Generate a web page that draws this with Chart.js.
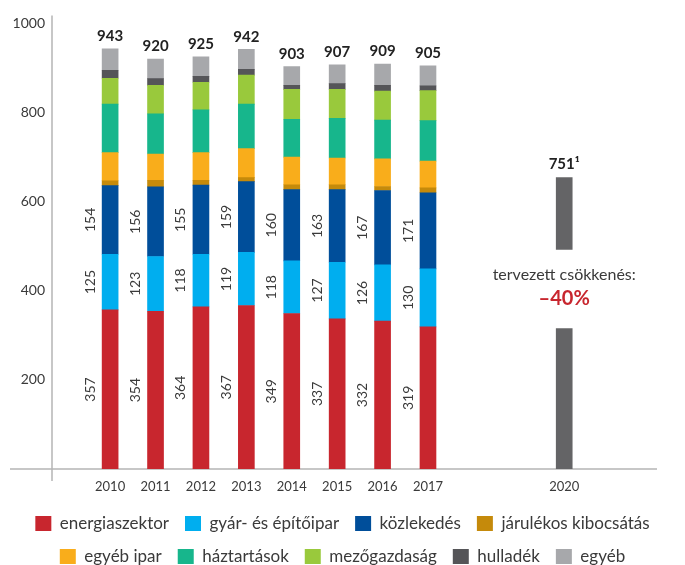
<!DOCTYPE html>
<html>
<head>
<meta charset="utf-8">
<script src="https://cdn.jsdelivr.net/npm/chart.js@4"></script>
<style>
  html, body { margin: 0; padding: 0; background: #fff; overflow: hidden; }
  #wrap { width: 685px; height: 575px; }
</style>
</head>
<body>
<div id="wrap"><canvas id="c"></canvas></div>
<script>
const years = [2010, 2011, 2012, 2013, 2014, 2015, 2016, 2017];
const tickYears = [2010, 2011, 2012, 2013, 2014, 2015, 2016, 2017, 2020];
const yTicks = [200, 400, 600, 800, 1000];

const energia = [357, 354, 364, 367, 349, 337, 332, 319];
const gyar = [125, 123, 118, 119, 118, 127, 126, 130];
const kozlekedes = [154, 156, 155, 159, 160, 163, 167, 171];
const jarulekos = [11, 15, 11, 9, 11, 11, 9, 11];
const egyebIpar = [63, 59, 62, 65, 62, 60, 62, 60];
const haztartasok = [109, 90, 96, 100, 85, 89, 87, 91];
const mezogazdasag = [58, 64, 62, 65, 67, 65, 65, 67];
const hulladek = [18, 15, 13, 13, 9, 13, 13, 11];
const egyeb = [48, 44, 44, 45, 42, 42, 48, 45];
const totals = [943, 920, 925, 942, 903, 907, 909, 905];

const targetYear = 2020;
const targetLabel = '751¹';
const targetSegments = [[0, 315], [493, 654]];

const series = [
  { label: 'energiaszektor', data: energia, color: '#c8262e' },
  { label: 'gyár- és építőipar', data: gyar, color: '#00aeef' },
  { label: 'közlekedés', data: kozlekedes, color: '#004e9a' },
  { label: 'járulékos kibocsátás', data: jarulekos, color: '#c58a0b' },
  { label: 'egyéb ipar', data: egyebIpar, color: '#f9ad1b' },
  { label: 'háztartások', data: haztartasok, color: '#17b68c' },
  { label: 'mezőgazdaság', data: mezogazdasag, color: '#99c93c' },
  { label: 'hulladék', data: hulladek, color: '#555558' },
  { label: 'egyéb', data: egyeb, color: '#a7a8ab' },
];

const FONT = 'Lato, "Open Sans", sans-serif';
const TXT = '#3a3a3a';

const datasets = series.map(s => ({
  label: s.label,
  data: s.data.map((v, i) => ({ x: years[i], y: v })),
  backgroundColor: s.color,
  barThickness: 16,
}));
datasets.push({
  label: 'target',
  data: targetSegments.map(seg => ({ x: targetYear, y: seg })),
  backgroundColor: '#646466',
  barThickness: 16,
});

// axis lines, value labels, totals, annotation
const decor = {
  id: 'decor',
  beforeDatasetsDraw(chart) {
    const { ctx, chartArea, scales } = chart;
    const y0 = scales.y.getPixelForValue(0);
    ctx.save();
    ctx.strokeStyle = '#b5b5b5';
    ctx.lineWidth = 1.5;
    ctx.beginPath();
    ctx.moveTo(10, y0);
    ctx.lineTo(chartArea.right - 28, y0);
    ctx.moveTo(chartArea.left, chartArea.top);
    ctx.lineTo(chartArea.left, y0 + 12);
    ctx.stroke();
    ctx.restore();
  },
  afterDatasetsDraw(chart) {
    const { ctx, scales } = chart;
    ctx.save();
    ctx.fillStyle = TXT;
    ctx.textAlign = 'center';
    ctx.textBaseline = 'middle';
    ctx.font = '14px ' + FONT;
    for (let d = 0; d < 3; d++) {
      chart.getDatasetMeta(d).data.forEach((bar, i) => {
        const cy = (bar.y + bar.base) / 2;
        ctx.save();
        ctx.translate(bar.x - 20, cy);
        ctx.rotate(-Math.PI / 2);
        ctx.fillText(String(series[d].data[i]), 0, 0);
        ctx.restore();
      });
    }
    ctx.font = 'bold 15px ' + FONT;
    ctx.fillStyle = '#222';
    ctx.textBaseline = 'bottom';
    const top = chart.getDatasetMeta(series.length - 1).data;
    top.forEach((bar, i) => ctx.fillText(String(totals[i]), bar.x, bar.y - 5));
    const tMeta = chart.getDatasetMeta(series.length).data;
    const tx = scales.x.getPixelForValue(targetYear);
    const tTop = Math.min(...tMeta.map(b => b.y));
    ctx.fillText(targetLabel, tx, tTop - 6);
    ctx.textBaseline = 'middle';
    ctx.font = '16px ' + FONT;
    ctx.fillStyle = TXT;
    ctx.fillText('tervezett csökkenés:', tx, 275);
    ctx.font = 'bold 20px ' + FONT;
    ctx.fillStyle = '#c8262e';
    ctx.fillText('–40%', tx, 299);
    ctx.restore();
  },
};

new Chart(document.getElementById('c'), {
  type: 'bar',
  data: { datasets },
  options: {
    responsive: true,
    maintainAspectRatio: false,
    animation: false,
    layout: { padding: { top: 13, right: 0, left: 0, bottom: 0 } },
    scales: {
      x: {
        type: 'linear',
        stacked: true,
        offset: false,
        min: 2008.72,
        max: 2022.66,
        grid: { display: false, drawTicks: false, offset: false },
        border: { display: false },
        afterBuildTicks: s => { s.ticks = tickYears.map(v => ({ value: v })); },
        afterFit: s => { s.height = 30; },
        ticks: {
          autoSkip: false,
          maxRotation: 0,
          padding: 10,
          color: TXT,
          font: { family: FONT, size: 13 },
          callback: v => String(v),
        },
      },
      y: {
        stacked: true,
        min: 0,
        max: 1018,
        grid: { display: false, drawTicks: false },
        border: { display: false },
        afterBuildTicks: s => { s.ticks = yTicks.map(v => ({ value: v })); },
        afterFit: s => { s.width = 52; },
        ticks: {
          padding: 7,
          color: TXT,
          font: { family: FONT, size: 14 },
          callback: v => String(v),
        },
      },
    },
    plugins: {
      tooltip: { enabled: false },
      legend: {
        position: 'bottom',
        labels: {
          filter: item => item.datasetIndex < series.length,
          boxWidth: 16,
          boxHeight: 15,
          padding: 16,
          color: TXT,
          font: { family: FONT, size: 17 },
        },
      },
    },
  },
  plugins: [decor],
});
</script>
</body>
</html>
